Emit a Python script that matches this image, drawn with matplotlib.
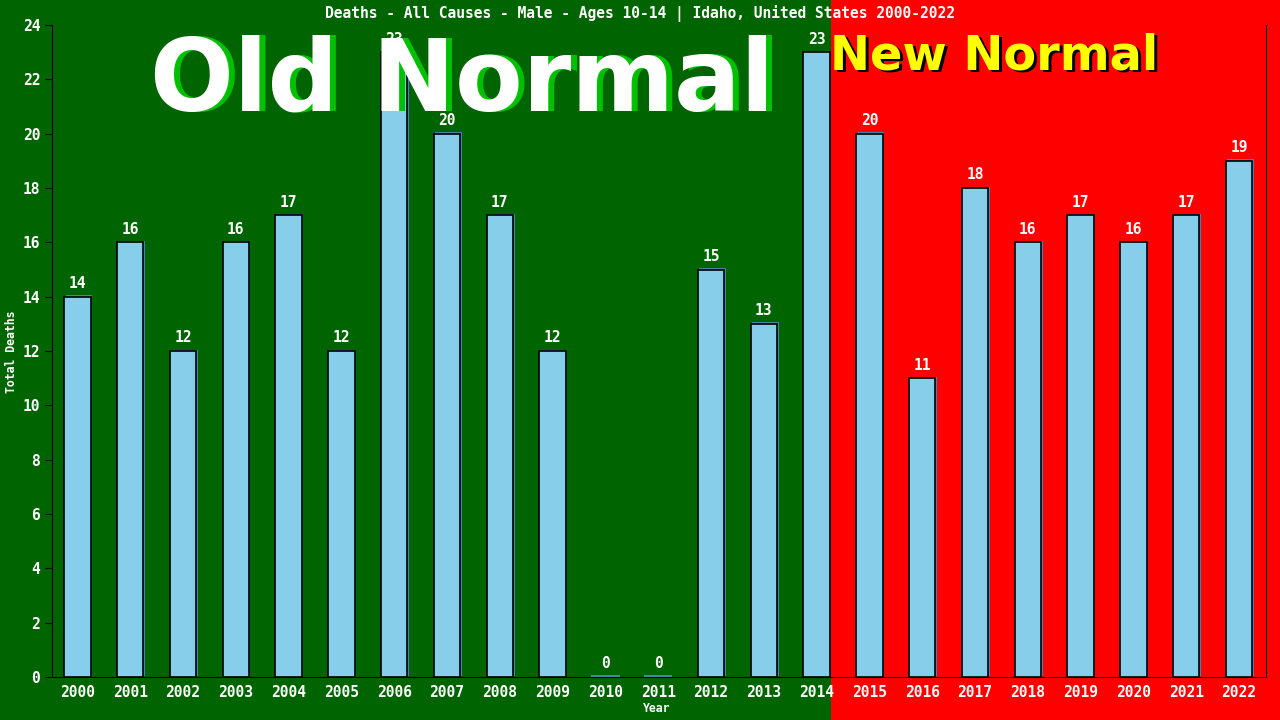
#!/usr/bin/env python3
"""Deaths bar chart, Idaho male 10-14, old vs new normal."""

import matplotlib

matplotlib.use("Agg")
import matplotlib.pyplot as plt
from matplotlib.patches import Rectangle
from matplotlib.transforms import blended_transform_factory, offset_copy

years = [str(y) for y in range(2000, 2023)]
deaths = [14, 16, 12, 16, 17, 12, 23, 20, 17, 12, 0, 0, 15, 13, 23,
          20, 11, 18, 16, 17, 16, 17, 19]
new_normal_from = 2015

title = "Deaths - All Causes - Male - Ages 10-14 | Idaho, United States 2000-2022"
GREEN = "#006400"
RED = "#ff0000"
BAR = "#87ceeb"
SHADOW = "#4682b4"
MONO = "DejaVu Sans Mono"

fig = plt.figure(figsize=(12.8, 7.2), dpi=100, facecolor=GREEN)
ax = fig.add_axes([52 / 1280, 43 / 720, (1265.5 - 52) / 1280, (677 - 25) / 720])
ax.set_facecolor("none")

x = list(range(len(years)))
split = years.index(str(new_normal_from)) - 0.73
bt = blended_transform_factory(ax.transData, fig.transFigure)
fig.patches.append(Rectangle((split, 0), 30, 1, transform=bt, facecolor=RED,
                             edgecolor="none", zorder=-5))

# shadow bars, then the main ones
ax.bar(x, deaths, width=0.5, bottom=0, color=SHADOW, zorder=2,
       transform=offset_copy(ax.transData, fig=fig, x=1.5, y=1.5, units="dots"))
ax.bar(x, deaths, width=0.5, color=BAR, edgecolor="black", linewidth=1.2, zorder=3)
for xi, d in zip(x, deaths):
    if d == 0:
        ax.plot([xi - 0.25, xi + 0.25], [0.03, 0.03], color=SHADOW, lw=1.5, zorder=3)
    ax.annotate(str(d), (xi, d), xytext=(0, 4), textcoords="offset points",
                ha="center", va="bottom", color="white", fontsize=10.5,
                family=MONO, fontweight="bold", zorder=4)

ax.set_xlim(-0.48, 22.5)
ax.set_ylim(0, 24)
ax.set_yticks(range(0, 25, 2))
ax.set_xticks(x)
ax.set_xticklabels(years)
ax.tick_params(axis="both", colors="black", labelcolor="white", labelsize=10.5,
               direction="out", length=5)
ax.tick_params(axis="x", length=0, pad=6)
for lab in ax.get_xticklabels() + ax.get_yticklabels():
    lab.set_family(MONO)
    lab.set_fontweight("bold")
ax.spines["top"].set_visible(False)
for s in ("left", "bottom", "right"):
    ax.spines[s].set_color("black")

fig.text(0.5, 1 - 13 / 720, title, ha="center", va="center", color="white",
         fontsize=10.5, family=MONO, fontweight="bold")
fig.text(12 / 1280, 1 - 352 / 720, "Total Deaths", rotation=90, ha="center",
         va="center", color="white", fontsize=8.3, family=MONO, fontweight="bold")
fig.text(657 / 1280, 1 - 709 / 720, "Year", ha="center", va="center",
         color="white", fontsize=8.3, family=MONO, fontweight="bold")

old_kw = dict(ha="left", va="baseline", fontsize=71, fontweight="bold",
              family="DejaVu Sans", zorder=10)
fig.text(150 / 1280, 1 - 111 / 720, "Old Normal", color="#00c000",
         transform=offset_copy(fig.transFigure, fig=fig, x=6, y=1, units="dots"),
         **old_kw)
fig.text(150 / 1280, 1 - 111 / 720, "Old Normal", color="white", **old_kw)

new_kw = dict(ha="left", va="baseline", fontsize=34.5, fontweight="bold",
              family="DejaVu Sans", zorder=10)
fig.text(830 / 1280, 1 - 69 / 720, "New Normal", color="black",
         transform=offset_copy(fig.transFigure, fig=fig, x=3, y=-3, units="dots"),
         **new_kw)
fig.text(830 / 1280, 1 - 69 / 720, "New Normal", color="#ffff00", **new_kw)

fig.savefig("out.png", dpi=100, facecolor=GREEN)
